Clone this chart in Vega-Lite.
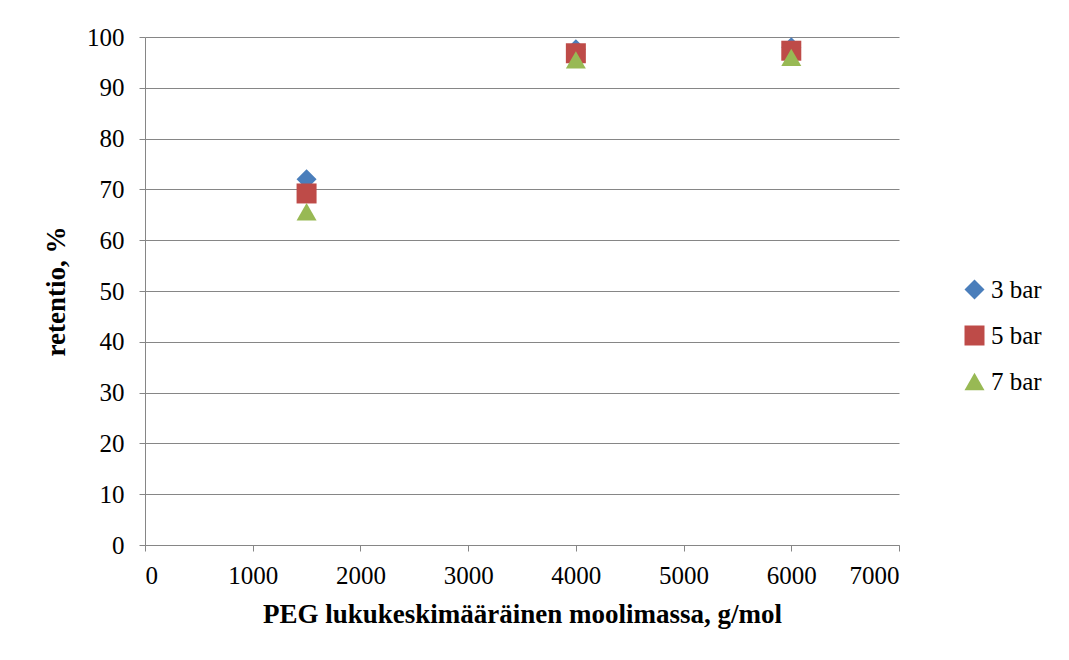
{
  "$schema": "https://vega.github.io/schema/vega-lite/v6.json",
  "width": 754,
  "height": 508,
  "autosize": "none",
  "padding": {"left": 145, "top": 37, "right": 170, "bottom": 115},
  "background": "white",
  "config": {
    "view": {"stroke": null},
    "font": "Liberation Serif",
    "axis": {"labelFont": "Liberation Serif", "titleFont": "Liberation Serif"},
    "legend": {"labelFont": "Liberation Serif", "titleFont": "Liberation Serif"}
  },
  "data": {
    "values": [
      {"M": 1500, "r": 72.0, "s": "3 bar"},
      {"M": 4000, "r": 97.6, "s": "3 bar"},
      {"M": 6000, "r": 98.0, "s": "3 bar"},
      {"M": 1500, "r": 69.2, "s": "5 bar"},
      {"M": 4000, "r": 96.8, "s": "5 bar"},
      {"M": 6000, "r": 97.3, "s": "5 bar"},
      {"M": 1500, "r": 65.6, "s": "7 bar"},
      {"M": 4000, "r": 95.5, "s": "7 bar"},
      {"M": 6000, "r": 96.0, "s": "7 bar"}
    ]
  },
  "mark": {"type": "point", "filled": true, "opacity": 1, "size": 400},
  "encoding": {
    "x": {
      "field": "M", "type": "quantitative",
      "scale": {"domain": [0, 7000], "nice": false},
      "axis": {
        "values": [0, 1000, 2000, 3000, 4000, 5000, 6000, 7000],
        "format": "d",
        "grid": false, "domainColor": "#868686", "tickColor": "#868686",
        "tickSize": 6, "labelFontSize": 25, "labelColor": "#000000",
        "labelPadding": 12,
        "title": "PEG lukukeskimääräinen moolimassa, g/mol",
        "titleFontSize": 27, "titleFontWeight": "bold",
        "titleColor": "#000000", "titlePadding": 13
      }
    },
    "y": {
      "field": "r", "type": "quantitative",
      "scale": {"domain": [0, 100], "nice": false},
      "axis": {
        "values": [0, 10, 20, 30, 40, 50, 60, 70, 80, 90, 100],
        "grid": true, "gridColor": "#868686", "gridWidth": 1.2,
        "domainColor": "#868686", "tickColor": "#868686",
        "tickSize": 6, "labelFontSize": 25, "labelColor": "#000000",
        "labelPadding": 15,
        "title": "retentio, %",
        "titleFontSize": 27, "titleFontWeight": "bold",
        "titleColor": "#000000", "titlePadding": 16
      }
    },
    "color": {
      "field": "s", "type": "nominal",
      "scale": {"domain": ["3 bar", "5 bar", "7 bar"], "range": ["#4a7ebb", "#be4b48", "#98b954"]},
      "legend": {
        "title": null, "orient": "none", "legendX": 817, "legendY": 240,
        "labelFontSize": 25, "labelColor": "#000000",
        "symbolSize": 400, "rowPadding": 20, "labelOffset": 4
      }
    },
    "shape": {
      "field": "s", "type": "nominal",
      "scale": {"domain": ["3 bar", "5 bar", "7 bar"], "range": ["diamond", "square", "triangle-up"]},
      "legend": null
    }
  }
}
